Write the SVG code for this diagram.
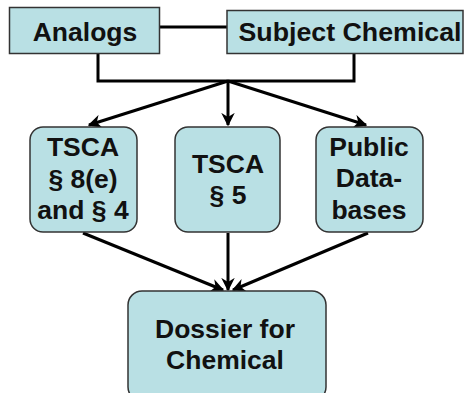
<svg xmlns="http://www.w3.org/2000/svg" width="465" height="393" viewBox="0 0 465 393">
<style>
.box{fill:#b9e0e4;stroke:#333;stroke-width:1.5}
.t{font-family:"Liberation Sans",Arial,sans-serif;font-weight:bold;font-size:26.5px;fill:#111;text-anchor:middle}
.c{fill:none;stroke:#000;stroke-width:3}
</style>
<defs>
<marker id="ah" viewBox="0 0 10 10" refX="9" refY="5" markerWidth="4.5" markerHeight="4.5" orient="auto" markerUnits="strokeWidth">
<path d="M0,0 L10,5 L0,10 L3,5 Z" fill="#000"/>
</marker>
</defs>
<rect width="465" height="393" fill="#fff"/>
<g id="connectors">
<line class="c" x1="160" y1="27" x2="227" y2="27"/>
<polyline class="c" points="98,54 98,81 354,81 354,53"/>
<line class="c" x1="228" y1="81" x2="89" y2="125" marker-end="url(#ah)"/>
<line class="c" x1="228" y1="81" x2="228" y2="125" marker-end="url(#ah)"/>
<line class="c" x1="228" y1="81" x2="366" y2="125" marker-end="url(#ah)"/>
<line class="c" x1="83" y1="233" x2="223" y2="290" marker-end="url(#ah)"/>
<line class="c" x1="228" y1="233" x2="228" y2="290" marker-end="url(#ah)"/>
<line class="c" x1="368" y1="233" x2="233" y2="290" marker-end="url(#ah)"/>
</g>
<g id="analogs">
<rect class="box" x="9.5" y="7.5" width="150" height="46"/>
<text class="t" x="85" y="40.5">Analogs</text>
</g>
<g id="subject">
<rect class="box" x="227" y="10.5" width="236" height="43"/>
<text class="t" x="350" y="41" textLength="223" lengthAdjust="spacingAndGlyphs">Subject Chemical</text>
</g>
<g id="tsca8e">
<rect class="box" x="30" y="127" width="107" height="105" rx="13"/>
<text class="t" x="83" y="156">TSCA</text>
<text class="t" x="83" y="188">§ 8(e)</text>
<text class="t" x="83" y="219">and § 4</text>
</g>
<g id="tsca5">
<rect class="box" x="175" y="127" width="105" height="105" rx="13"/>
<text class="t" x="228" y="173">TSCA</text>
<text class="t" x="228" y="204">§ 5</text>
</g>
<g id="public">
<rect class="box" x="316" y="127" width="107" height="105" rx="13"/>
<text class="t" x="369" y="156">Public</text>
<text class="t" x="369" y="187">Data-</text>
<text class="t" x="369" y="219">bases</text>
</g>
<g id="dossier">
<rect class="box" x="128" y="291" width="198" height="110" rx="14"/>
<text class="t" x="225" y="338">Dossier for</text>
<text class="t" x="225" y="369">Chemical</text>
</g>
</svg>
